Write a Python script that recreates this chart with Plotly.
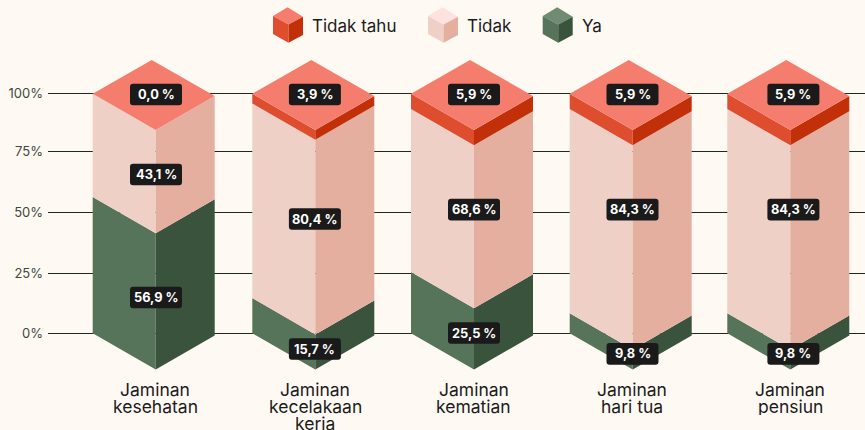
import plotly.graph_objects as go

# ---- data ----
categories = ["Jaminan\nkesehatan", "Jaminan\nkecelakaan\nkerja", "Jaminan\nkematian", "Jaminan\nhari tua", "Jaminan\npensiun"]
series_names = ["Tidak tahu", "Tidak", "Ya"]
label_ya = ["56,9 %", "15,7 %", "25,5 %", "9,8 %", "9,8 %"]
label_tidak = ["43,1 %", "80,4 %", "68,6 %", "84,3 %", "84,3 %"]
label_tahu = ["0,0 %", "3,9 %", "5,9 %", "5,9 %", "5,9 %"]
# segment heights as measured on the drawn bars (percent of the axis)
height_ya = [56.9, 14.7, 25.6, 8.4, 8.4]
height_tahu = [0.0, 4.05, 6.4, 6.4, 6.4]
y_ticks = [0, 25, 50.5, 76, 100]
y_tick_text = ["0%", "25%", "50%", "75%", "100%"]

# ---- layout constants ----
W, H = 865, 430
Y0_PX, PX_PER_PCT = 333.3, 2.396
PLOT_BOTTOM = 375
bar_left = [92.7, 252.3, 411.0, 569.7, 727.3]
CENTER_DX, RIGHT_DX, APEX_DX = 63.0, 122.0, 59.0
FRONT_DROP, RIGHT_DROP, APEX_RISE = 36.3, 2.3, 33.7
badge_dx = [0.3, -0.4, 0, -0.2, 3.1]
badge_px_ya = [297.5, 349, 333, 353.8, 353.8]
badge_px_tidak = [174.5, 219, 209.7, 209.7, 209.7]
badge_px_tahu = 94.5
BADGE_W, BADGE_H, BADGE_R = 52, 21.7, 3

BG = "#FFF9F3"
INK = "#1B1B1B"
FONT = "Inter"
colors = {
    "Tidak tahu": ("#F57D6E", "#DD4D2E", "#C2300A"),
    "Tidak": ("#FDE2DD", "#EFD0C6", "#E5AFA0"),
    "Ya": ("#6F8B72", "#56745A", "#3A533C"),
}
TOP_COLOR = "#F57D6E"


def d(py):
    """Pixel row to axis percent."""
    return (Y0_PX - py) / PX_PER_PCT


front, rdrop, rise = FRONT_DROP / PX_PER_PCT, RIGHT_DROP / PX_PER_PCT, APEX_RISE / PX_PER_PCT


def poly_trace(xs, ys, color, name):
    return go.Scatter(x=xs, y=ys, mode="lines", fill="toself", fillcolor=color,
                      line=dict(width=0, color=color), name=name, showlegend=False, hoverinfo="name")


def faces(segments):
    """segments: list of (left_px, y_low, y_high). Returns left and right face coordinates."""
    lx, ly, rx, ry = [], [], [], []
    for L, lo, hi in segments:
        C, R = L + CENTER_DX, L + RIGHT_DX
        lx += [L, C, C, L, L, None]
        ly += [lo, lo - front, hi - front, hi, lo, None]
        rx += [C, R, R, C, C, None]
        ry += [lo - front, lo - rdrop, hi - rdrop, hi - front, lo - front, None]
    return lx, ly, rx, ry


fig = go.Figure()
seg_ya = [(L, 0, h) for L, h in zip(bar_left, height_ya)]
seg_tidak = [(L, h, 100 - t) for L, h, t in zip(bar_left, height_ya, height_tahu)]
seg_tahu = [(L, 100 - t, 100) for L, t in zip(bar_left, height_tahu)]
for nm, segs in (("Ya", seg_ya), ("Tidak", seg_tidak), ("Tidak tahu", seg_tahu)):
    lx, ly, rx, ry = faces(segs)
    fig.add_trace(poly_trace(lx, ly, colors[nm][1], nm))
    fig.add_trace(poly_trace(rx, ry, colors[nm][2], nm))

tx, ty = [], []
for L in bar_left:
    tx += [L, L + APEX_DX, L + RIGHT_DX, L + CENTER_DX, L, None]
    ty += [100, 100 + rise, 100 - rdrop, 100 - front, 100, None]
fig.add_trace(poly_trace(tx, ty, TOP_COLOR, "Tidak tahu"))

# legend cubes
cube_left = [273.0, 428.0, 542.7]
legend_text_x = [310, 465, 580]
LEG_Y = 25.7
for nm, cl, tx0 in zip(series_names, cube_left, legend_text_x):
    top, left, right = colors[nm]
    xs = [0, 14.5, 30, 15.5, 0]
    fig.add_trace(poly_trace([cl + v for v in xs], [d(v) for v in [16, 7.3, 16.7, 24.5, 16]], top, nm))
    fig.add_trace(poly_trace([cl + v for v in [0, 15.5, 15.5, 0, 0]], [d(v) for v in [16, 24.5, 42.7, 34, 16]], left, nm))
    fig.add_trace(poly_trace([cl + v for v in [15.5, 30, 30, 15.5, 15.5]], [d(v) for v in [24.5, 16.7, 35, 42.7, 24.5]], right, nm))

annotations, shapes = [], []
for nm, tx0 in zip(series_names, legend_text_x):
    annotations.append(dict(x=tx0, y=d(LEG_Y), text=nm, showarrow=False, xanchor="left", yanchor="middle",
                            font=dict(family=FONT, size=17, color=INK)))


def badge(cx, py, text):
    x0, x1 = cx - BADGE_W / 2, cx + BADGE_W / 2
    y0, y1 = py - BADGE_H / 2, py + BADGE_H / 2
    r = BADGE_R
    path = (f"M{x0 + r},{d(y0)} L{x1 - r},{d(y0)} Q{x1},{d(y0)} {x1},{d(y0 + r)} "
            f"L{x1},{d(y1 - r)} Q{x1},{d(y1)} {x1 - r},{d(y1)} L{x0 + r},{d(y1)} "
            f"Q{x0},{d(y1)} {x0},{d(y1 - r)} L{x0},{d(y0 + r)} Q{x0},{d(y0)} {x0 + r},{d(y0)} Z")
    shapes.append(dict(type="path", path=path, fillcolor="#1A1A1A", line=dict(width=0), layer="above"))
    annotations.append(dict(x=cx, y=d(py), text=f"<b>{text}</b>", showarrow=False, xanchor="center", yanchor="middle",
                            font=dict(family=FONT, size=12.8, color="#FFFFFF")))


for i, L in enumerate(bar_left):
    cx = L + CENTER_DX + badge_dx[i]
    badge(cx, badge_px_tahu, label_tahu[i])
    badge(cx, badge_px_tidak[i], label_tidak[i])
    badge(cx, badge_px_ya[i], label_ya[i])
    for n, line in enumerate(categories[i].split("\n")):
        annotations.append(dict(x=L + CENTER_DX - 0.3, y=0, yshift=333.3 - (389 + 17 * n), text=line, showarrow=False,
                                xanchor="center", yanchor="middle", height=17, borderpad=0,
                                font=dict(family=FONT, size=17.5, color=INK)))

fig.update_layout(
    width=W, height=H, autosize=False,
    margin=dict(l=48, r=0, t=0, b=H - PLOT_BOTTOM, pad=0),
    paper_bgcolor=BG, plot_bgcolor=BG, showlegend=False,
    annotations=annotations, shapes=shapes,
    xaxis=dict(range=[48, W], showgrid=False, zeroline=False, showticklabels=False, ticks="", fixedrange=True),
    yaxis=dict(range=[d(PLOT_BOTTOM), d(0)], tickvals=y_ticks, ticktext=y_tick_text, showgrid=True,
               gridcolor="#1F2A1F", gridwidth=1, zeroline=False, showline=False, ticks="", ticklabelstandoff=4,
               tickfont=dict(family=FONT, size=13, color="#3D4A3E"), fixedrange=True),
)

fig.write_html("out.html", config=dict(displayModeBar=False),
               post_script="document.body.style.margin='0';document.body.style.background='%s';" % BG)
